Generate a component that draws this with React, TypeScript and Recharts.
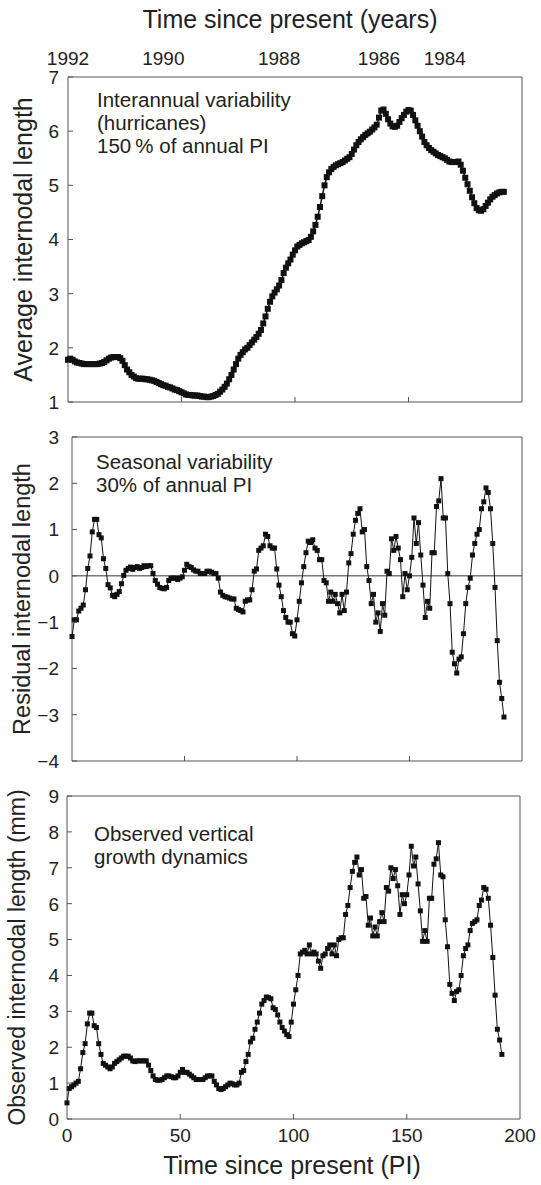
import { LineChart, Line, XAxis, YAxis, ReferenceLine, ReferenceArea } from "recharts"

const FONT = '"Liberation Sans", Arial, Helvetica, sans-serif'
const INK = "#111"
const TEXT = "#222"
const FRAME = "#555"

const yearTicks = [0, 42, 93, 137, 166]
const yearLabels = ["1992", "1990", "1988", "1986", "1984"]
const piTicks = [0, 50, 100, 150, 200]
const averageTicks = [1, 2, 3, 4, 5, 6, 7]
const residualTicks = [-4, -3, -2, -1, 0, 1, 2, 3]
const observedTicks = [0, 1, 2, 3, 4, 5, 6, 7, 8, 9]

// average internodal length (hurricane-scale trend), one value per PI from 0
const averageLength = [
  1.78, 1.8, 1.78, 1.75, 1.73, 1.72, 1.71, 1.7, 1.7, 1.7,
  1.7, 1.7, 1.7, 1.7, 1.71, 1.72, 1.74, 1.77, 1.8, 1.82,
  1.83, 1.83, 1.83, 1.81, 1.76, 1.68, 1.6, 1.55, 1.5, 1.47,
  1.44, 1.43, 1.43, 1.43, 1.42, 1.42, 1.41, 1.4, 1.39, 1.37,
  1.35, 1.33, 1.31, 1.3, 1.28, 1.27, 1.25, 1.23, 1.22, 1.2,
  1.18, 1.16, 1.14, 1.13, 1.13, 1.12, 1.12, 1.12, 1.11, 1.1,
  1.1, 1.09, 1.09, 1.1, 1.11, 1.13, 1.15, 1.19, 1.23, 1.28,
  1.34, 1.42, 1.5, 1.6, 1.7, 1.8, 1.87, 1.92, 1.97, 2.0,
  2.05, 2.1, 2.15, 2.2, 2.26, 2.33, 2.45, 2.58, 2.72, 2.85,
  2.95, 3.02, 3.08, 3.15, 3.25, 3.38, 3.48, 3.56, 3.63, 3.72,
  3.8, 3.87, 3.9, 3.93, 3.95, 3.97, 3.99, 4.05, 4.15, 4.27,
  4.42, 4.6, 4.8, 5.0, 5.15, 5.24, 5.3, 5.34, 5.37, 5.39,
  5.41, 5.43, 5.46, 5.49, 5.52, 5.58, 5.66, 5.74, 5.8, 5.85,
  5.89, 5.93, 5.96, 5.99, 6.03, 6.07, 6.12, 6.25, 6.38, 6.4,
  6.32, 6.22, 6.14, 6.09, 6.08, 6.1, 6.17, 6.24, 6.3, 6.36,
  6.39, 6.38, 6.3, 6.2, 6.1, 6.0, 5.9, 5.8, 5.74, 5.69,
  5.65, 5.62, 5.59, 5.56, 5.54, 5.52, 5.5, 5.47, 5.44, 5.43,
  5.43, 5.43, 5.44, 5.38, 5.27, 5.14, 5.02, 4.9, 4.78, 4.67,
  4.58, 4.54, 4.53, 4.56, 4.62, 4.68, 4.74, 4.79, 4.82, 4.85,
  4.87, 4.88, 4.88,
]

// residual (seasonal) internodal length
const residualLength = [
  -1.31, -0.95, -0.95, -0.76, -0.7, -0.63, -0.3, 0.16, 0.43, 0.95,
  1.22, 1.22, 0.89, 0.82, 0.37, 0.16, -0.19, -0.26, -0.42, -0.45,
  -0.4, -0.34, -0.17, 0.01, 0.12, 0.16, 0.19, 0.14, 0.18, 0.2,
  0.16, 0.18, 0.22, 0.2, 0.22, 0.22, 0.05, -0.1, -0.18, -0.25,
  -0.27, -0.28, -0.25, -0.1, -0.05, -0.05, -0.05, -0.08, -0.05, -0.02,
  0.12, 0.25, 0.2, 0.18, 0.13, 0.1, 0.1, 0.05, 0.05, 0.05,
  0.1, 0.1, 0.08, 0.05, 0.05, -0.05, -0.35, -0.42, -0.45, -0.46,
  -0.48, -0.5, -0.5, -0.7, -0.73, -0.75, -0.78, -0.55, -0.52, -0.52,
  -0.3, 0.1, 0.15, 0.55, 0.6, 0.65, 0.9, 0.85, 0.65, 0.6,
  0.6, 0.15, -0.2, -0.45, -0.75, -0.9, -1.0, -1.0, -1.25, -1.3,
  -0.95, -0.55, -0.15, 0.2, 0.5, 0.75, 0.72, 0.78, 0.6, 0.55,
  0.35, 0.35, -0.1, -0.15, -0.55, -0.35, -0.55, -0.4, -0.6, -0.8,
  -0.4, -0.75, -0.35, 0.28, 0.48, 0.9, 1.2, 1.35, 1.45, 0.95,
  1.0, 0.2, -0.1, -0.6, -0.4, -1.0, -0.8, -1.2, -0.6, -0.85,
  0.1, 0.05, 0.8, 0.55, 0.85, 0.6, 0.35, -0.45, 0.05, -0.3,
  0.0, 0.4, 1.25, 0.7, 1.15, 0.45, -0.2, -0.9, -0.55, -0.7,
  0.5, 0.5, 1.5, 1.62, 2.1, 1.25, 1.25, 0.05, -0.6, -1.65,
  -1.9, -2.1, -1.8, -1.75, -1.25, -0.6, -0.25, -0.05, 0.45, 0.7,
  0.9, 1.0, 1.45, 1.6, 1.9, 1.8, 1.45, 0.7, -0.25, -1.4,
  -2.3, -2.65, -3.05,
]

// observed internodal length (mm)
const observedLength = [
  0.45, 0.85, 0.9, 0.95, 1.0, 1.05, 1.4, 1.85, 2.1, 2.65,
  2.95, 2.95, 2.6, 2.55, 2.1, 1.8, 1.55, 1.5, 1.45, 1.4,
  1.45, 1.55, 1.6, 1.65, 1.7, 1.75, 1.75, 1.75, 1.7, 1.62,
  1.6, 1.62, 1.62, 1.62, 1.62, 1.62, 1.5, 1.35, 1.2, 1.1,
  1.08, 1.08, 1.1, 1.15, 1.2, 1.2, 1.18, 1.15, 1.15, 1.2,
  1.3, 1.38, 1.3, 1.3, 1.25, 1.2, 1.15, 1.1, 1.1, 1.1,
  1.1, 1.15, 1.2, 1.2, 1.2, 1.05, 0.95, 0.85, 0.82, 0.85,
  0.9, 0.95, 1.0, 0.98, 0.95, 0.95, 1.0, 1.3, 1.35, 1.6,
  1.8, 2.15, 2.25, 2.5, 2.7, 2.95, 3.2, 3.3, 3.4, 3.38,
  3.35, 3.1, 3.05, 2.9, 2.7, 2.55, 2.45, 2.35, 2.3, 2.7,
  3.2, 3.6, 4.0, 4.6, 4.65, 4.7, 4.6, 4.85, 4.6, 4.65,
  4.6, 4.4, 4.2, 4.55, 4.6, 4.75, 4.85, 4.6, 4.85, 4.55,
  5.0, 5.05, 5.05, 5.7, 5.95, 6.45, 6.9, 7.15, 7.3, 6.8,
  6.95, 6.15, 6.2, 5.4, 5.6, 5.1, 5.35, 5.1, 5.5, 5.75,
  5.5, 6.45, 6.35, 7.0, 6.7, 6.95, 6.5, 5.7, 6.25, 6.0,
  6.25, 6.8, 7.6, 7.05, 7.3, 6.55, 5.8, 4.95, 5.25, 4.95,
  6.15, 6.15, 7.1, 7.25, 7.7, 6.8, 6.75, 5.55, 4.8, 3.75,
  3.5, 3.3, 3.55, 3.6, 4.0, 4.55, 4.75, 4.85, 5.25, 5.45,
  5.5, 5.55, 5.95, 6.1, 6.45, 6.4, 6.15, 5.4, 4.5, 3.45,
  2.5, 2.2, 1.8,
]

const toRows = (vals: number[]) => vals.map((v, i) => ({ pi: i, v }))

const minus = (n: number) => (n < 0 ? "\u2212" + Math.abs(n) : String(n))

const TICK_SIZE = 19

const squareDot = (size: number) => (props: any) => {
  const { cx, cy, index } = props
  if (cx == null || cy == null) return <g key={index} />
  return <rect key={index} x={cx - size / 2} y={cy - size / 2} width={size} height={size} fill={INK} />
}

// y tick label plus a short inward tick on the frame
const yTick = (margin: number) => (props: any) => {
  const { x, y, payload } = props
  return (
    <g>
      <text x={x} y={y} dy="0.36em" textAnchor="end" fontSize={TICK_SIZE} fill={TEXT} fontFamily={FONT}>
        {minus(payload.value)}
      </text>
      <line x1={x + margin} x2={x + margin + 5} y1={y} y2={y} stroke={FRAME} />
    </g>
  )
}

const xTick = (margin: number, showLabel: boolean) => (props: any) => {
  const { x, y, payload } = props
  const axisY = y - margin
  return (
    <g>
      {payload.value > 0 && payload.value < 200 && (
        <line x1={x} x2={x} y1={axisY} y2={axisY - 5} stroke={FRAME} />
      )}
      {showLabel && (
        <text x={x} y={y} dy="0.71em" textAnchor="middle" fontSize={TICK_SIZE} fill={TEXT} fontFamily={FONT}>
          {payload.value}
        </text>
      )}
    </g>
  )
}

function Title({ txt, tx, ty, rotate, size }: any) {
  return (
    <text
      x={tx}
      y={ty}
      transform={rotate ? `rotate(-90 ${tx} ${ty})` : undefined}
      textAnchor="middle"
      dominantBaseline="central"
      fontSize={size || 25}
      fill={TEXT}
      fontFamily={FONT}
    >
      {txt}
    </text>
  )
}

function YTitle({ viewBox, txt, cx, size }: any) {
  const ty = viewBox.y + viewBox.height / 2
  return <Title txt={txt} tx={cx} ty={ty} rotate size={size} />
}

function Notes({ viewBox, lines, dx, top }: any) {
  return (
    <g>
      {lines.map((l: string, i: number) => (
        <text
          key={l}
          x={viewBox.x + dx}
          y={viewBox.y + top + i * 23}
          dominantBaseline="central"
          fontSize={20.5}
          fill={TEXT}
          fontFamily={FONT}
        >
          {l}
        </text>
      ))}
    </g>
  )
}

export default function App() {
  return (
    <div style={{ position: "absolute", left: 0, top: 0, width: 541, height: 1185, background: "#fff" }}>
      <div style={{ position: "absolute", left: 0, top: 0 }}>
        <LineChart width={541} height={412} data={toRows(averageLength)} margin={{ top: 47, right: 19, bottom: 0, left: 0 }}>
          <XAxis
            xAxisId="top"
            orientation="top"
            type="number"
            dataKey="pi"
            domain={[0, 200]}
            ticks={yearTicks}
            interval={0}
            tickFormatter={(v: number) => yearLabels[yearTicks.indexOf(v)]}
            tick={{ fontSize: TICK_SIZE, fill: TEXT, fontFamily: FONT }}
            tickLine={false}
            axisLine={false}
            tickSize={0}
            tickMargin={12}
            height={30}
            label={<Title txt="Time since present (years)" tx={290} ty={19} />}
          />
          <XAxis type="number" dataKey="pi" domain={[0, 200]} ticks={piTicks} interval={0} tick={xTick(0, false)} tickLine={false} axisLine={false} tickSize={0} tickMargin={0} height={10} />
          <YAxis
            type="number"
            domain={[1, 7]}
            ticks={averageTicks}
            interval={0}
            tick={yTick(9)}
            tickLine={false}
            axisLine={false}
            tickSize={0}
            tickMargin={9}
            width={68}
            label={<YTitle txt="Average internodal length" cx={23} size={25} />}
          />
          <ReferenceArea
            x1={0}
            x2={200}
            y1={1}
            y2={7}
            fill="none"
            fillOpacity={0}
            stroke={FRAME}
            label={<Notes lines={["Interannual variability", "(hurricanes)", "150\u2009% of annual PI"]} dx={29} top={22} />}
          />
          <Line type="linear" dataKey="v" stroke={INK} strokeWidth={1.5} dot={squareDot(6)} activeDot={false} isAnimationActive={false} />
        </LineChart>
      </div>

      <div style={{ position: "absolute", left: 0, top: 412 }}>
        <LineChart width={541} height={360} data={toRows(residualLength)} margin={{ top: 25, right: 19, bottom: 0, left: 0 }}>
          <XAxis type="number" dataKey="pi" domain={[0, 200]} ticks={piTicks} interval={0} tick={xTick(0, false)} tickLine={false} axisLine={false} tickSize={0} tickMargin={0} height={11} />
          <YAxis
            type="number"
            domain={[-4, 3]}
            ticks={residualTicks}
            interval={0}
            tick={yTick(13)}
            tickLine={false}
            axisLine={false}
            tickSize={0}
            tickMargin={13}
            width={72}
            label={<YTitle txt="Residual internodal length" cx={22} size={23.5} />}
          />
          <ReferenceArea
            x1={0}
            x2={200}
            y1={-4}
            y2={3}
            fill="none"
            fillOpacity={0}
            stroke={FRAME}
            label={<Notes lines={["Seasonal variability", "30% of annual PI"]} dx={24} top={24} />}
          />
          <ReferenceLine y={0} stroke="#333" strokeWidth={1} />
          <Line type="linear" dataKey="v" stroke={INK} strokeWidth={1} dot={squareDot(5)} activeDot={false} isAnimationActive={false} />
        </LineChart>
      </div>

      <div style={{ position: "absolute", left: 0, top: 772 }}>
        <LineChart width={541} height={413} data={toRows(observedLength)} margin={{ top: 24, right: 21, bottom: 0, left: 0 }}>
          <XAxis
            type="number"
            dataKey="pi"
            domain={[0, 200]}
            ticks={piTicks}
            interval={0}
            tick={xTick(10, true)}
            tickLine={false}
            axisLine={false}
            tickSize={0}
            tickMargin={10}
            height={66}
            label={<Title txt="Time since present (PI)" tx={292} ty={393} />}
          />
          <YAxis
            type="number"
            domain={[0, 9]}
            ticks={observedTicks}
            interval={0}
            tick={yTick(8)}
            tickLine={false}
            axisLine={false}
            tickSize={0}
            tickMargin={8}
            width={67}
            label={<YTitle txt="Observed internodal length (mm)" cx={17} size={23} />}
          />
          <ReferenceArea
            x1={0}
            x2={200}
            y1={0}
            y2={9}
            fill="none"
            fillOpacity={0}
            stroke={FRAME}
            label={<Notes lines={["Observed vertical", "growth dynamics"]} dx={27} top={37} />}
          />
          <Line type="linear" dataKey="v" stroke={INK} strokeWidth={1} dot={squareDot(5)} activeDot={false} isAnimationActive={false} />
        </LineChart>
      </div>
    </div>
  )
}
